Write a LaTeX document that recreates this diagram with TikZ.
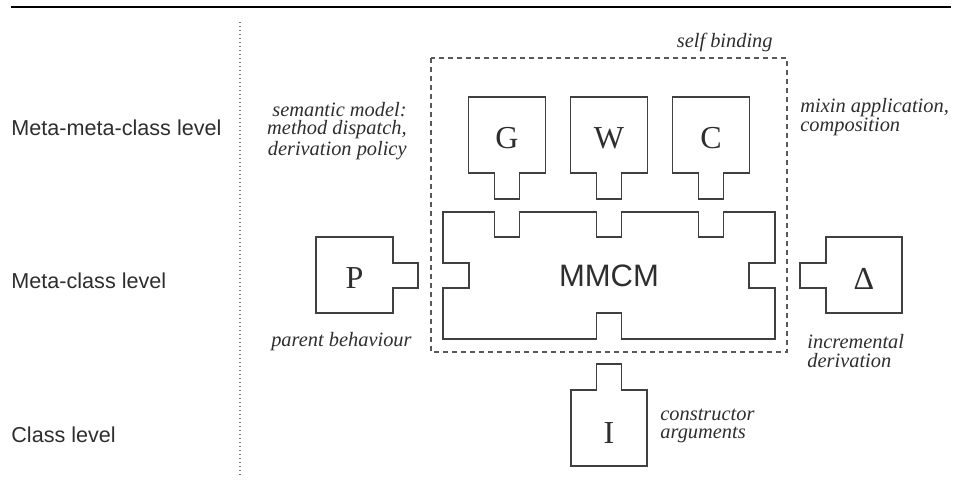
\documentclass[tikz,border=0pt]{standalone}
\usepackage{fontspec}
\setmainfont{Liberation Serif}
\setsansfont{Liberation Sans}
\usepackage{xcolor}
\usepackage{tikz}
\usetikzlibrary{positioning}

\begin{document}
\begin{tikzpicture}[
    x=0.5pt, y=-0.5pt,
    every node/.style={inner sep=0pt, text=black!82},
    piece/.style={draw=black!75, line width=0.75pt},
    level/.style={font=\sffamily\fontsize{10.8}{12}\selectfont, anchor=base west},
    note/.style={font=\itshape\fontsize{10.2}{9.2}\selectfont},
    letter/.style={font=\fontsize{16}{16}\selectfont}
]
\useasboundingbox (0,0) rectangle (962,489);
\draw[line width=1pt] (11,7) -- (951,7);
\draw[black!55, line width=0.7pt, dash pattern=on 0.6pt off 1.4pt] (240,22) -- (240,475);

% levels
\node[level] (lmeta2) at (11,135) {Meta-meta-class level};
\node[level] (lmeta) at (11,288) {Meta-class level};
\node[level] (lclass) at (11,442) {Class level};

% self binding
\draw[black!65, line width=0.7pt, dash pattern=on 2.5pt off 2pt] (431,58) rectangle (787,352);
\node[note, anchor=base east] (self) at (773,47) {self binding};

% generators on top
\foreach \cx/\lbl in {507/G, 609/W, 711/C} {
    \draw[piece] (\cx-38.5,97) -- (\cx+38.5,97) -- (\cx+38.5,173) -- (\cx+12.5,173)
        -- (\cx+12.5,199) -- (\cx-12.5,199) -- (\cx-12.5,173) -- (\cx-38.5,173) -- cycle;
    \node[letter] (\lbl) at (\cx,138) {\lbl};
}

% the meta-meta-class
\draw[piece] (443,212) -- (494.5,212) -- (494.5,237) -- (519.5,237) -- (519.5,212)
    -- (596.5,212) -- (596.5,237) -- (621.5,237) -- (621.5,212)
    -- (698.5,212) -- (698.5,237) -- (723.5,237) -- (723.5,212) -- (775,212)
    -- (775,263) -- (749,263) -- (749,288) -- (775,288) -- (775,339)
    -- (621.5,339) -- (621.5,313) -- (596.5,313) -- (596.5,339) -- (443,339)
    -- (443,288) -- (469,288) -- (469,263) -- (443,263) -- cycle;
\node[font=\sffamily\fontsize{15.5}{16}\selectfont] (mmcm) at (609,276) {MMCM};

% parent
\draw[piece] (316,237) -- (393,237) -- (393,263) -- (418,263) -- (418,288)
    -- (393,288) -- (393,313) -- (316,313) -- cycle;
\node[letter] (P) at (354.5,278) {P};
\node[note, anchor=base east] (parent) at (412,346) {parent behaviour};

% increment
\draw[piece] (826,237) -- (902,237) -- (902,313) -- (826,313) -- (826,288)
    -- (800,288) -- (800,263) -- (826,263) -- cycle;
\node[letter] (D) at (864,279) {Δ};
\node[note, anchor=west, align=left] (incr) at (807,351) {incremental\\derivation};

% instance
\draw[piece] (571,390) -- (596.5,390) -- (596.5,364) -- (621.5,364) -- (621.5,390)
    -- (647,390) -- (647,466) -- (571,466) -- cycle;
\node[letter] (I) at (609,433) {I};
\node[note, anchor=west, align=left] (ctor) at (660,426) {constructor\\arguments};

% side notes
\node[note, anchor=east, align=right] (sem) at (407,131) {semantic model:\\method dispatch,\\derivation policy};
\node[note, anchor=west, align=left] (mixin) at (800,117) {mixin application,\\composition};
\end{tikzpicture}
\end{document}
